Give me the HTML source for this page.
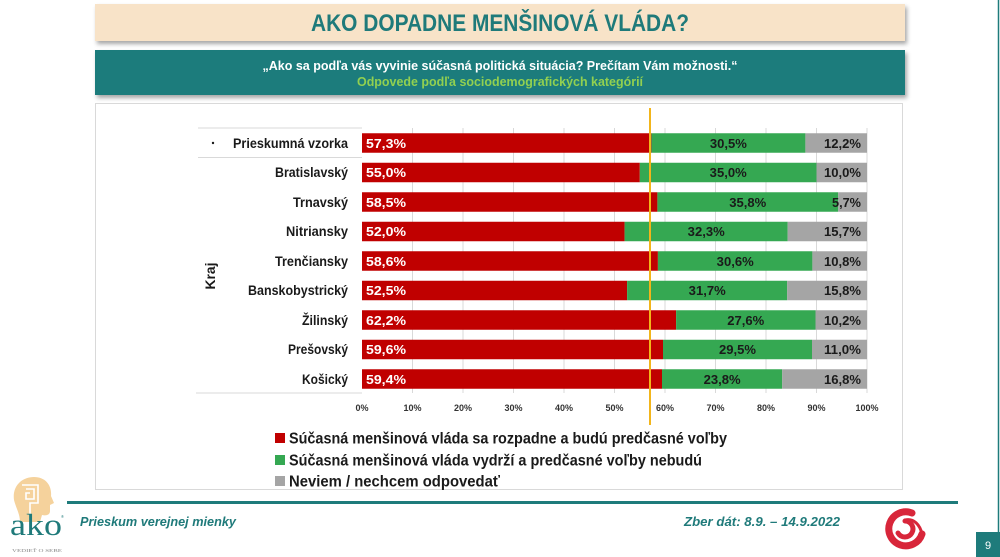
<!DOCTYPE html>
<html><head><meta charset="utf-8"><style>
html,body{margin:0;padding:0;background:#fff;}
svg{display:block;font-family:"Liberation Sans",sans-serif;}
</style></head><body>
<svg width="1000" height="557" viewBox="0 0 1000 557" xmlns="http://www.w3.org/2000/svg">
<defs>
<filter id="sh" x="-5%" y="-20%" width="110%" height="160%"><feDropShadow dx="2" dy="3" stdDeviation="2" flood-color="#000" flood-opacity="0.35"/></filter>
</defs>
<rect width="1000" height="557" fill="#fff"/>
<!-- right border -->
<line x1="998.5" y1="0" x2="998.5" y2="532" stroke="#1e7b7b" stroke-width="1.5"/>
<!-- title band -->
<rect x="95" y="4" width="810" height="37" fill="#f8e3c8" filter="url(#sh)"/>
<text x="500" y="31" text-anchor="middle" font-size="24" font-weight="bold" fill="#1f7a7a" textLength="378" lengthAdjust="spacingAndGlyphs">AKO DOPADNE MENŠINOVÁ VLÁDA?</text>
<!-- teal band -->
<rect x="95" y="50" width="810" height="45" fill="#1e7b7b" filter="url(#sh)"/>
<text x="500" y="70" text-anchor="middle" font-size="13" font-weight="bold" fill="#fff" textLength="475" lengthAdjust="spacingAndGlyphs">„Ako sa podľa vás vyvinie súčasná politická situácia? Prečítam Vám možnosti.“</text>
<text x="500" y="86" text-anchor="middle" font-size="13" font-weight="bold" fill="#92d050" textLength="286" lengthAdjust="spacingAndGlyphs">Odpovede podľa sociodemografických kategórií</text>
<!-- chart box -->
<rect x="95.5" y="103.5" width="807" height="386" fill="#fff" stroke="#d9d9d9" stroke-width="1"/>
<!-- gridlines -->
<g stroke="#d9d9d9" stroke-width="1">
<line x1="412.5" y1="128" x2="412.5" y2="393"/>
<line x1="463" y1="128" x2="463" y2="393"/>
<line x1="513.5" y1="128" x2="513.5" y2="393"/>
<line x1="564" y1="128" x2="564" y2="393"/>
<line x1="614.5" y1="128" x2="614.5" y2="393"/>
<line x1="665" y1="128" x2="665" y2="393"/>
<line x1="715.5" y1="128" x2="715.5" y2="393"/>
<line x1="766" y1="128" x2="766" y2="393"/>
<line x1="816.5" y1="128" x2="816.5" y2="393"/>
<line x1="867" y1="128" x2="867" y2="393"/>
<line x1="198" y1="128" x2="362" y2="128"/>
<line x1="198" y1="157.5" x2="362" y2="157.5"/>
<line x1="196" y1="393" x2="362" y2="393"/>
</g>
<!-- bars -->
<g id="bars">
<!-- row template: y center c, top c-9.75 -->
<rect x="362" y="133.25" width="289.4" height="19.5" fill="#c00000"/><rect x="651.4" y="133.25" width="154" height="19.5" fill="#35a852"/><rect x="805.4" y="133.25" width="61.6" height="19.5" fill="#a5a5a5"/>
<rect x="362" y="162.75" width="277.8" height="19.5" fill="#c00000"/><rect x="639.8" y="162.75" width="176.7" height="19.5" fill="#35a852"/><rect x="816.5" y="162.75" width="50.5" height="19.5" fill="#a5a5a5"/>
<rect x="362" y="192.25" width="295.4" height="19.5" fill="#c00000"/><rect x="657.4" y="192.25" width="180.8" height="19.5" fill="#35a852"/><rect x="838.2" y="192.25" width="28.8" height="19.5" fill="#a5a5a5"/>
<rect x="362" y="221.75" width="262.6" height="19.5" fill="#c00000"/><rect x="624.6" y="221.75" width="163.1" height="19.5" fill="#35a852"/><rect x="787.7" y="221.75" width="79.3" height="19.5" fill="#a5a5a5"/>
<rect x="362" y="251.25" width="295.9" height="19.5" fill="#c00000"/><rect x="657.9" y="251.25" width="154.5" height="19.5" fill="#35a852"/><rect x="812.4" y="251.25" width="54.6" height="19.5" fill="#a5a5a5"/>
<rect x="362" y="280.75" width="265.1" height="19.5" fill="#c00000"/><rect x="627.1" y="280.75" width="160.1" height="19.5" fill="#35a852"/><rect x="787.2" y="280.75" width="79.8" height="19.5" fill="#a5a5a5"/>
<rect x="362" y="310.25" width="314.1" height="19.5" fill="#c00000"/><rect x="676.1" y="310.25" width="139.4" height="19.5" fill="#35a852"/><rect x="815.5" y="310.25" width="51.5" height="19.5" fill="#a5a5a5"/>
<rect x="362" y="339.75" width="301" height="19.5" fill="#c00000"/><rect x="663" y="339.75" width="149" height="19.5" fill="#35a852"/><rect x="812" y="339.75" width="55" height="19.5" fill="#a5a5a5"/>
<rect x="362" y="369.25" width="300" height="19.5" fill="#c00000"/><rect x="662" y="369.25" width="120.2" height="19.5" fill="#35a852"/><rect x="782.2" y="369.25" width="84.8" height="19.5" fill="#a5a5a5"/>
</g>
<!-- yellow line -->
<line x1="650" y1="108" x2="650" y2="425" stroke="#f2b51b" stroke-width="2"/>
<!-- data labels -->
<g font-size="12.5" font-weight="bold">
<g fill="#fff">
<text x="366" y="148" textLength="40" lengthAdjust="spacingAndGlyphs">57,3%</text>
<text x="366" y="177" textLength="40" lengthAdjust="spacingAndGlyphs">55,0%</text>
<text x="366" y="207" textLength="40" lengthAdjust="spacingAndGlyphs">58,5%</text>
<text x="366" y="236" textLength="40" lengthAdjust="spacingAndGlyphs">52,0%</text>
<text x="366" y="266" textLength="40" lengthAdjust="spacingAndGlyphs">58,6%</text>
<text x="366" y="295" textLength="40" lengthAdjust="spacingAndGlyphs">52,5%</text>
<text x="366" y="325" textLength="40" lengthAdjust="spacingAndGlyphs">62,2%</text>
<text x="366" y="354" textLength="40" lengthAdjust="spacingAndGlyphs">59,6%</text>
<text x="366" y="384" textLength="40" lengthAdjust="spacingAndGlyphs">59,4%</text>
</g>
<g fill="#1a1a1a" text-anchor="middle">
<text x="728.4" y="148" textLength="37" lengthAdjust="spacingAndGlyphs">30,5%</text>
<text x="728.2" y="177" textLength="37" lengthAdjust="spacingAndGlyphs">35,0%</text>
<text x="747.8" y="207" textLength="37" lengthAdjust="spacingAndGlyphs">35,8%</text>
<text x="706.2" y="236" textLength="37" lengthAdjust="spacingAndGlyphs">32,3%</text>
<text x="735.2" y="266" textLength="37" lengthAdjust="spacingAndGlyphs">30,6%</text>
<text x="707.2" y="295" textLength="37" lengthAdjust="spacingAndGlyphs">31,7%</text>
<text x="745.8" y="325" textLength="37" lengthAdjust="spacingAndGlyphs">27,6%</text>
<text x="737.5" y="354" textLength="37" lengthAdjust="spacingAndGlyphs">29,5%</text>
<text x="722.1" y="384" textLength="37" lengthAdjust="spacingAndGlyphs">23,8%</text>
</g>
<g fill="#1a1a1a" text-anchor="end">
<text x="861" y="148" textLength="37" lengthAdjust="spacingAndGlyphs">12,2%</text>
<text x="861" y="177" textLength="37" lengthAdjust="spacingAndGlyphs">10,0%</text>
<text x="861" y="207" textLength="29" lengthAdjust="spacingAndGlyphs">5,7%</text>
<text x="861" y="236" textLength="37" lengthAdjust="spacingAndGlyphs">15,7%</text>
<text x="861" y="266" textLength="37" lengthAdjust="spacingAndGlyphs">10,8%</text>
<text x="861" y="295" textLength="37" lengthAdjust="spacingAndGlyphs">15,8%</text>
<text x="861" y="325" textLength="37" lengthAdjust="spacingAndGlyphs">10,2%</text>
<text x="861" y="354" textLength="37" lengthAdjust="spacingAndGlyphs">11,0%</text>
<text x="861" y="384" textLength="37" lengthAdjust="spacingAndGlyphs">16,8%</text>
</g>
</g>
<!-- category labels -->
<g font-size="13.5" font-weight="bold" fill="#1a1a1a" text-anchor="end">
<text x="348" y="148" textLength="115" lengthAdjust="spacingAndGlyphs">Prieskumná vzorka</text>
<text x="348" y="177" textLength="73" lengthAdjust="spacingAndGlyphs">Bratislavský</text>
<text x="348" y="207" textLength="55" lengthAdjust="spacingAndGlyphs">Trnavský</text>
<text x="348" y="236" textLength="62" lengthAdjust="spacingAndGlyphs">Nitriansky</text>
<text x="348" y="266" textLength="73" lengthAdjust="spacingAndGlyphs">Trenčiansky</text>
<text x="348" y="295" textLength="100" lengthAdjust="spacingAndGlyphs">Banskobystrický</text>
<text x="348" y="325" textLength="46" lengthAdjust="spacingAndGlyphs">Žilinský</text>
<text x="348" y="354" textLength="60" lengthAdjust="spacingAndGlyphs">Prešovský</text>
<text x="348" y="384" textLength="46" lengthAdjust="spacingAndGlyphs">Košický</text>
</g>
<circle cx="213" cy="143" r="1.2" fill="#1a1a1a"/>
<text transform="translate(215,276) rotate(-90)" text-anchor="middle" font-size="13.5" font-weight="bold" fill="#1a1a1a" textLength="27" lengthAdjust="spacingAndGlyphs">Kraj</text>
<!-- axis labels -->
<g font-size="9" font-weight="bold" fill="#333" text-anchor="middle">
<text x="362" y="411">0%</text>
<text x="412.5" y="411">10%</text>
<text x="463" y="411">20%</text>
<text x="513.5" y="411">30%</text>
<text x="564" y="411">40%</text>
<text x="614.5" y="411">50%</text>
<text x="665" y="411">60%</text>
<text x="715.5" y="411">70%</text>
<text x="766" y="411">80%</text>
<text x="816.5" y="411">90%</text>
<text x="867" y="411">100%</text>
</g>
<!-- legend -->
<rect x="275" y="433" width="10" height="10" fill="#c00000"/>
<rect x="275" y="455" width="10" height="10" fill="#35a852"/>
<rect x="275" y="476" width="10" height="10" fill="#a5a5a5"/>
<g font-size="15.5" font-weight="bold" fill="#1a1a1a">
<text x="289" y="443.5" textLength="438" lengthAdjust="spacingAndGlyphs">Súčasná menšinová vláda sa rozpadne a budú predčasné voľby</text>
<text x="289" y="465.5" textLength="413" lengthAdjust="spacingAndGlyphs">Súčasná menšinová vláda vydrží a predčasné voľby nebudú</text>
<text x="289" y="486.5" textLength="211" lengthAdjust="spacingAndGlyphs">Neviem / nechcem odpovedať</text>
</g>
<!-- footer -->
<line x1="67" y1="502.5" x2="958" y2="502.5" stroke="#1e7b7b" stroke-width="3"/>
<text x="80" y="526" font-size="13" font-weight="bold" font-style="italic" fill="#1f7a7a" textLength="156" lengthAdjust="spacingAndGlyphs">Prieskum verejnej mienky</text>
<text x="840" y="526" text-anchor="end" font-size="13" font-weight="bold" font-style="italic" fill="#1f7a7a" textLength="156" lengthAdjust="spacingAndGlyphs">Zber dát: 8.9. – 14.9.2022</text>
<!-- ako logo -->
<path d="M14,500 C12,486 22,477 34,477 C46,477 52,486 51,496 L54,503 L50,505 L50,511 C50,515 46,516 42,515 L40,522 L20,522 C20,514 16,508 14,500 Z" fill="#f5d29c"/>
<path d="M22,485 L38,485 L38,503 L30,503 L30,520 M26,489 L34,489 L34,499 L26,499 L26,493 L30,493" fill="none" stroke="#fff" stroke-width="1.6"/>
<text x="10" y="535" font-family="Liberation Serif,serif" font-size="31" fill="#1f7a7a" textLength="52" lengthAdjust="spacingAndGlyphs">ako</text>
<text x="61" y="518" font-size="4" fill="#1f7a7a">®</text>
<text x="12" y="552" font-family="Liberation Serif,serif" font-size="4.5" fill="#888" textLength="50" lengthAdjust="spacingAndGlyphs">VEDIEŤ O SEBE</text>
<!-- red spiral -->
<g fill="none" stroke="#d8263a" stroke-linecap="round">
<path d="M912,513 A17,17 0 1 0 922,534" stroke-width="7"/>
<path d="M905,521 A8,8 0 1 1 898,533" stroke-width="5"/>
<path d="M922,534 C920,525 914,518 905,520" stroke-width="3"/>
</g>
<!-- page number -->
<rect x="976" y="532" width="24" height="25" fill="#1e7b7b"/>
<text x="988" y="549" text-anchor="middle" font-size="11" fill="#fff">9</text>
</svg>
</body></html>
